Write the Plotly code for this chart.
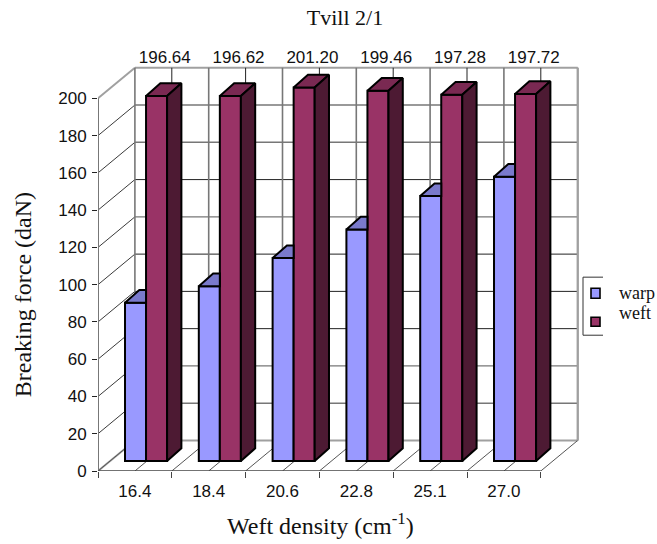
import plotly.graph_objects as go

# Chart data
categories = ["16.4", "18.4", "20.6", "22.8", "25.1", "27.0"]
warp = [85.2, 94.2, 109.3, 124.7, 142.7, 153.1]
weft = [196.64, 196.62, 201.20, 199.46, 197.28, 197.72]
weft_labels = ["196.64", "196.62", "201.20", "199.46", "197.28", "197.72"]
y_ticks = list(range(0, 201, 20))

# Page geometry, in pixels
WIDTH, HEIGHT = 657, 544
LEFT, RIGHT, TOP, FLOOR = 98, 585, 30, 470.7
CAT_PX = 73.8
WALL_SCALE = 1.862   # px per daN on the walls
BAR_SCALE = 1.855    # px per daN on the plane of the bars
BAR_FLOOR = 460.7

# Oblique projection offsets, in axis units
WALL_DX, WALL_DY = 0.5, 16.4
BAR_DX, BAR_DY = 0.194, 6.85
WARP_X, WEFT_X, BAR_W = 0.366, 0.651, 0.285

TEXT = "#111111"
LIGHT, MID, DARK = "#a0a0a0", "#777777", "#222222"
WARP_FACE, WARP_TOP = "#9999FF", "#7A7ACC"
WEFT_FACE, WEFT_TOP, WEFT_SIDE = "#993366", "#7A2952", "#4D1A33"

# Line tone of each back wall gridline
BACK_TONES = {
    LIGHT: ([200, 0], 2),
    MID: ([180, 160, 120, 40, 20], 1.4),
    DARK: ([140, 100, 80, 60], 1),
}
n = len(categories)


def to_px_x(x):
    return (x - LEFT) / (RIGHT - LEFT)


def to_px_y(y):
    return (FLOOR - y) / (FLOOR - TOP)


def polyline(segments):
    xs, ys = [], []
    for (x0, y0), (x1, y1) in segments:
        xs += [x0, x1, None]
        ys += [y0, y1, None]
    return xs, ys


fig = go.Figure()


def wall_lines(segments, color, width):
    xs, ys = polyline(segments)
    fig.add_trace(go.Scatter(x=xs, y=ys, mode="lines", yaxis="y",
                             line=dict(color=color, width=width),
                             hoverinfo="skip", showlegend=False))


# Back wall gridlines, one per value tick
for color, (levels, width) in BACK_TONES.items():
    wall_lines([((WALL_DX, v + WALL_DY), (n + WALL_DX, v + WALL_DY)) for v in levels], color, width)

# Side wall gridlines: the outer two are heavier
wall_lines([((0, v), (WALL_DX, v + WALL_DY)) for v in y_ticks[1:-1]], "#3a3a3a", 1)
wall_lines([((0, v), (WALL_DX, v + WALL_DY)) for v in (y_ticks[0], y_ticks[-1])], LIGHT, 2)

# Vertical gridlines on the back wall and slanted ones on the floor, every half category
top = y_ticks[-1] + WALL_DY
wall_lines([((i + WALL_DX, WALL_DY), (i + WALL_DX, top)) for i in range(n + 1)], MID, 1.6)
wall_lines([((i + 0.5 + WALL_DX, WALL_DY), (i + 0.5 + WALL_DX, top)) for i in range(n)], DARK, 1)
wall_lines([((i / 2, 0), (i / 2 + WALL_DX, WALL_DY)) for i in range(2 * n + 1)], "#555555", 1)
wall_lines([((n + WALL_DX, WALL_DY), (n + WALL_DX, top))], LIGHT, 2)

# Front axis lines
wall_lines([((0, 0), (0, y_ticks[-1]))], MID, 2)
wall_lines([((0, 0), (n, 0))], "#444444", 1.4)

# Front faces of the columns
for name, values, offset, color in (("warp", warp, WARP_X, WARP_FACE),
                                    ("weft", weft, WEFT_X, WEFT_FACE)):
    fig.add_trace(go.Bar(x=[i + offset + BAR_W / 2 for i in range(n)], y=values, width=BAR_W,
                         name=name, yaxis="y2", marker=dict(color=color, line=dict(color="black", width=2)),
                         showlegend=False))


def closed(polygons):
    xs, ys = [], []
    for poly in polygons:
        xs += [p[0] for p in poly] + [poly[0][0], None]
        ys += [p[1] for p in poly] + [poly[0][1], None]
    return xs, ys


def solid(polygons, color):
    xs, ys = closed(polygons)
    fig.add_trace(go.Scatter(x=xs, y=ys, mode="lines", yaxis="y2", fill="toself", fillcolor=color,
                             line=dict(color="black", width=2), hoverinfo="skip", showlegend=False))


# Warp tops stop where the neighbouring weft column hides them
solid([[(i + WARP_X, v), (i + WEFT_X, v), (i + WEFT_X, v + BAR_DY), (i + WARP_X + BAR_DX, v + BAR_DY)]
       for i, v in enumerate(warp)], WARP_TOP)

# Weft tops and right-hand sides
solid([[(i + WEFT_X, v), (i + WEFT_X + BAR_W, v),
        (i + WEFT_X + BAR_W + BAR_DX, v + BAR_DY), (i + WEFT_X + BAR_DX, v + BAR_DY)]
       for i, v in enumerate(weft)], WEFT_TOP)
solid([[(i + WEFT_X + BAR_W, 0), (i + WEFT_X + BAR_W + BAR_DX, BAR_DY),
        (i + WEFT_X + BAR_W + BAR_DX, v + BAR_DY), (i + WEFT_X + BAR_W, v)]
       for i, v in enumerate(weft)], WEFT_SIDE)

# Weft value labels along the top of the wall
fig.add_trace(go.Scatter(x=[i + 0.905 for i in range(n)], y=[221.5] * n, text=weft_labels, mode="text",
                         yaxis="y", textfont=dict(family="Liberation Sans", size=17, color=TEXT),
                         hoverinfo="skip", showlegend=False))

plot_h = FLOOR - TOP
plot_w = RIGHT - LEFT

annotations = [
    dict(text="Breaking force (daN)", textangle=-90, xref="paper", yref="paper",
         x=to_px_x(23), y=to_px_y(295), showarrow=False, xanchor="center", yanchor="middle",
         font=dict(family="Liberation Serif", size=24, color=TEXT)),
    dict(text="Weft density (cm<sup>-1</sup>)", xref="paper", yref="paper",
         x=to_px_x(320), y=to_px_y(524), showarrow=False, xanchor="center", yanchor="middle",
         font=dict(family="Liberation Serif", size=24, color=TEXT)),
    dict(text="warp", xref="paper", yref="paper", x=to_px_x(617), y=to_px_y(293), showarrow=False,
         xanchor="left", yanchor="middle", font=dict(family="Liberation Serif", size=18, color=TEXT)),
    dict(text="weft", xref="paper", yref="paper", x=to_px_x(617), y=to_px_y(313), showarrow=False,
         xanchor="left", yanchor="middle", font=dict(family="Liberation Serif", size=18, color=TEXT)),
]


def paper_rect(x0, y0, x1, y1, fill):
    return dict(type="rect", xref="paper", yref="paper", x0=to_px_x(x0), x1=to_px_x(x1),
                y0=to_px_y(y0), y1=to_px_y(y1), fillcolor=fill, line=dict(color="black", width=1.6))


def paper_line(x0, y0, x1, y1):
    return dict(type="line", xref="paper", yref="paper", x0=to_px_x(x0), x1=to_px_x(x1),
                y0=to_px_y(y0), y1=to_px_y(y1), line=dict(color="#333333", width=1))


# Legend frame is open on its right-hand side
shapes = [
    paper_line(583, 277, 603, 277),
    paper_line(583, 335, 603, 335),
    paper_line(583, 277, 583, 335),
    paper_rect(591, 288, 600, 298, WARP_FACE),
    paper_rect(591, 317, 600, 326, WEFT_FACE),
]

fig.update_layout(
    width=WIDTH, height=HEIGHT,
    margin=dict(l=LEFT, r=WIDTH - RIGHT, t=TOP, b=HEIGHT - FLOOR, pad=0),
    paper_bgcolor="white", plot_bgcolor="white",
    barmode="overlay", hovermode=False,
    title=dict(text="Tvill 2/1", x=345 / WIDTH, xanchor="center", y=1 - 17 / HEIGHT, yanchor="middle",
               font=dict(family="Liberation Serif", size=22, color=TEXT)),
    xaxis=dict(range=[0, plot_w / CAT_PX], showgrid=False, zeroline=False, showline=False,
               tickmode="array", tickvals=[i + 0.5 for i in range(n)], ticktext=categories, ticks="",
               ticklabelstandoff=8,
               tickfont=dict(family="Liberation Sans", size=17, color=TEXT),
               minor=dict(tickmode="array", tickvals=list(range(n + 1)), ticks="outside", ticklen=6,
                          tickwidth=1.2, tickcolor="#444444", showgrid=False)),
    yaxis=dict(range=[0, plot_h / WALL_SCALE], showgrid=False, zeroline=False, showline=False,
               tickmode="array", tickvals=y_ticks, ticks="outside", ticklen=5, tickwidth=1.2,
               tickcolor="#222222", ticklabelstandoff=2,
               tickfont=dict(family="Liberation Sans", size=17, color=TEXT)),
    yaxis2=dict(overlaying="y", visible=False,
                range=[-(FLOOR - BAR_FLOOR) / BAR_SCALE, (BAR_FLOOR - TOP) / BAR_SCALE]),
    annotations=annotations, shapes=shapes, showlegend=False,
)

fig.write_html("out.html", config=dict(displayModeBar=False))
